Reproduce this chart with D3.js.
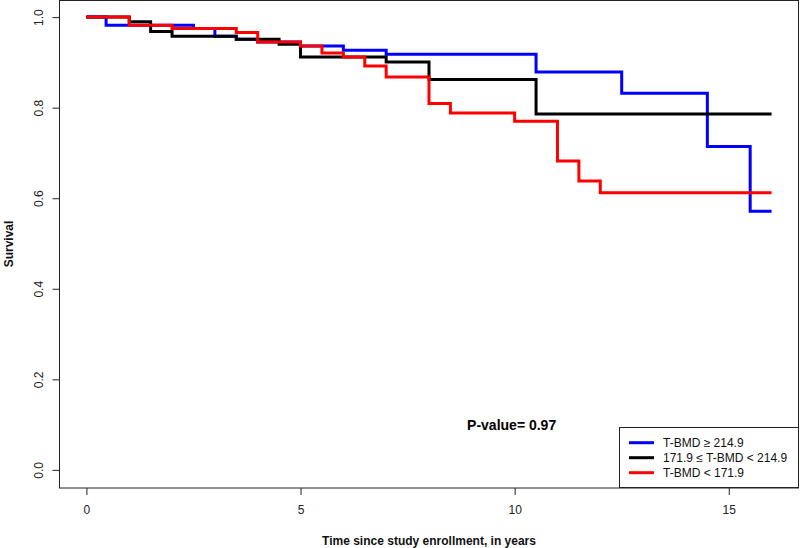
<!DOCTYPE html>
<html>
<head>
<meta charset="utf-8">
<script src="https://cdn.jsdelivr.net/npm/d3@7"></script>
<style>
  html, body { margin: 0; padding: 0; background: #fff; }
  svg { display: block; }
  text { font-family: "Liberation Sans", Arial, sans-serif; }
</style>
</head>
<body>
<svg id="chart" width="800" height="548"></svg>
<script>
// ---- Data ----
const seriesNames = ["T-BMD \u2265 214.9", "171.9 \u2264 T-BMD < 214.9", "T-BMD < 171.9"];
const seriesColors = ["#0000ff", "#000000", "#ff0000"];

// step functions: times at which survival changes, and survival from that time on
const blueTimes = [0, 0.46, 2.5, 3.0, 3.5, 4.0, 5.0, 6.0, 7.0, 10.5, 12.5, 14.5, 15.5];
const blueSurv  = [1.0, 0.982, 0.975, 0.958, 0.951, 0.945, 0.936, 0.927, 0.918, 0.879, 0.832, 0.714, 0.571];

const blackTimes = [0, 1.0, 1.5, 2.0, 3.5, 4.5, 5.0, 7.0, 8.0, 10.5];
const blackSurv  = [1.0, 0.990, 0.968, 0.958, 0.951, 0.940, 0.912, 0.901, 0.862, 0.786];

const redTimes = [0, 1.0, 2.0, 3.5, 4.0, 5.0, 5.5, 6.0, 6.5, 7.0, 8.0, 8.5, 10.0, 11.0, 11.5, 12.0];
const redSurv  = [1.0, 0.982, 0.975, 0.966, 0.945, 0.936, 0.921, 0.912, 0.892, 0.868, 0.809, 0.788, 0.770, 0.682, 0.638, 0.612];

const endTime = 16;

const xTicks = [0, 5, 10, 15];
const yTicks = [0, 0.2, 0.4, 0.6, 0.8, 1.0];
const xTitle = "Time since study enrollment, in years";
const yTitle = "Survival";
const pLabel = "P-value= 0.97";
const pPos = [10, 0.1];

// ---- Layout ----
const svg = d3.select("#chart");
const box = { left: 59, right: 799, top: -1, bottom: 488 };

const x = d3.scaleLinear().domain([-0.64, 16.64]).range([box.left, box.right]);
const y = d3.scaleLinear().domain([-0.04, 1.04]).range([box.bottom, box.top]);

// ---- Curves ----
const allSeries = [
  { times: blueTimes, surv: blueSurv },
  { times: blackTimes, surv: blackSurv },
  { times: redTimes, surv: redSurv }
];

const line = d3.line()
  .x(d => x(d[0]))
  .y(d => y(d[1]))
  .curve(d3.curveStepAfter);

allSeries.forEach((s, i) => {
  const pts = s.times.map((t, j) => [t, s.surv[j]]);
  pts.push([endTime, s.surv[s.surv.length - 1]]);
  svg.append("path")
    .datum(pts)
    .attr("d", line)
    .attr("fill", "none")
    .attr("stroke", seriesColors[i])
    .attr("stroke-width", 3)
    .attr("stroke-linejoin", "miter")
    .attr("stroke-linecap", "butt");
});

// ---- Box ----
svg.append("rect")
  .attr("x", box.left + 0.5)
  .attr("y", 0.5)
  .attr("width", box.right - box.left - 1)
  .attr("height", box.bottom - 0.5)
  .attr("fill", "none")
  .attr("stroke", "#222")
  .attr("stroke-width", 1);

// ---- Axes ----
const xAxis = d3.axisBottom(x).tickValues(xTicks).tickSize(7).tickPadding(10).tickFormat(d3.format("d"));
const gx = svg.append("g").attr("transform", `translate(0,${box.bottom})`).call(xAxis);
gx.select(".domain").remove();
gx.selectAll("line").attr("stroke", "#222");
gx.selectAll("text").attr("font-size", 12).attr("fill", "#222")
  .attr("font-family", "'Liberation Sans', Arial, sans-serif");

const yAxis = d3.axisLeft(y).tickValues(yTicks).tickSize(7).tickFormat(d3.format(".1f"));
const gy = svg.append("g").attr("transform", `translate(${box.left + 0.5},0)`).call(yAxis);
gy.select(".domain").remove();
gy.selectAll("line").attr("stroke", "#222");
gy.selectAll("text")
  .attr("font-size", 12).attr("fill", "#222")
  .attr("font-family", "'Liberation Sans', Arial, sans-serif")
  .attr("x", null).attr("dy", null)
  .attr("text-anchor", "middle")
  .attr("dominant-baseline", "central")
  .attr("transform", "translate(-21,0) rotate(-90)");

// Axis titles
svg.append("text")
  .attr("x", (box.left + box.right) / 2)
  .attr("y", 541)
  .attr("text-anchor", "middle")
  .attr("dominant-baseline", "central")
  .attr("font-size", 12)
  .attr("font-weight", "bold")
  .attr("fill", "#111")
  .text(xTitle);

svg.append("text")
  .attr("transform", `translate(9,${(0 + box.bottom) / 2}) rotate(-90)`)
  .attr("text-anchor", "middle")
  .attr("dominant-baseline", "central")
  .attr("font-size", 12)
  .attr("font-weight", "bold")
  .attr("fill", "#111")
  .text(yTitle);

// P-value
svg.append("text")
  .attr("x", x(pPos[0]) - 3)
  .attr("y", y(pPos[1]))
  .attr("text-anchor", "middle")
  .attr("dominant-baseline", "central")
  .attr("font-size", 14)
  .attr("font-weight", "bold")
  .attr("fill", "#000")
  .text(pLabel);

// ---- Legend ----
const lg = svg.append("g");
lg.append("rect")
  .attr("x", 619.5).attr("y", 427.5)
  .attr("width", 179).attr("height", 60)
  .attr("fill", "#fff")
  .attr("stroke", "#222").attr("stroke-width", 1);

seriesNames.forEach((name, i) => {
  const cy = 442.7 + i * 15;
  lg.append("line")
    .attr("x1", 629).attr("x2", 654)
    .attr("y1", cy).attr("y2", cy)
    .attr("stroke", seriesColors[i]).attr("stroke-width", 3);
  lg.append("text")
    .attr("x", 663).attr("y", cy)
    .attr("dominant-baseline", "central")
    .attr("font-size", 12)
    .attr("fill", "#111")
    .text(name);
});
</script>
</body>
</html>
